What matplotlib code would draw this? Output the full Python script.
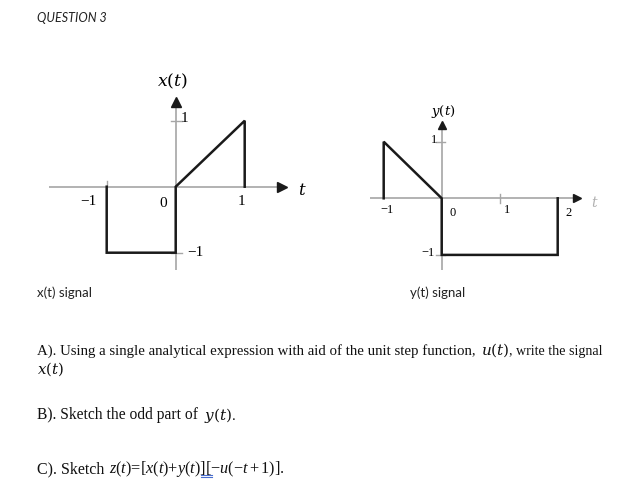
import matplotlib
matplotlib.use('Agg')
import matplotlib.pyplot as plt

plt.rcParams['mathtext.fontset'] = 'custom'
plt.rcParams['mathtext.it'] = 'Liberation Serif:italic'
plt.rcParams['mathtext.rm'] = 'Liberation Serif'
plt.rcParams['mathtext.bf'] = 'Liberation Serif:bold'

# ---- data ----
x_t = [-1, -1, 0, 0, 1, 1]
x_v = [0, -1, -1, 0, 1, 0]
y_t = [-1, -1, 0, 0, 2, 2]
y_v = [0, 1, 0, -1, -1, 0]

W, H = 640, 498
fig = plt.figure(figsize=(6.4, 4.98), dpi=100)
fig.patch.set_facecolor('white')

bg = fig.add_axes([0, 0, 1, 1])
bg.set_xlim(0, W)
bg.set_ylim(H, 0)
bg.axis('off')

GRAY = '#a6a6a6'
BLACK = '#1a1a1a'
SERIF = 'Liberation Serif'
SANS = 'Lato'
MF = 'dejavuserif'


def make_axes(ox, oy, sx, sy, xlim, ylim):
    left = ox + sx * xlim[0]
    right = ox + sx * xlim[1]
    top = oy - sy * ylim[1]
    bottom = oy - sy * ylim[0]
    ax = fig.add_axes([left / W, 1 - bottom / H, (right - left) / W, (bottom - top) / H])
    ax.set_xlim(*xlim)
    ax.set_ylim(*ylim)
    ax.axis('off')
    ax.patch.set_alpha(0)
    return ax


def draw_axes(ax, hx, vy, tick_x, tick_y, tlen_x, tlen_y, ms):
    ax.plot(hx, [0, 0], color=GRAY, lw=1.2, solid_capstyle='butt', zorder=1)
    ax.plot([0, 0], vy, color=GRAY, lw=1.2, solid_capstyle='butt', zorder=1)
    ax.plot(hx[1], 0, marker='>', ms=ms, color=BLACK, mec=BLACK, zorder=3, clip_on=False)
    ax.plot(0, vy[1], marker='^', ms=ms, color=BLACK, mec=BLACK, zorder=3, clip_on=False)
    for tx in tick_x:
        ax.plot([tx, tx], tlen_x, color=GRAY, lw=1.0, zorder=1)
    for ty in tick_y:
        ax.plot(tlen_y, [ty, ty], color=GRAY, lw=1.0, zorder=1)


# ---- x(t) plot ----
ax1 = make_axes(175.7, 186.7, 69, 66, (-1.85, 2.0), (-1.45, 1.75))
draw_axes(ax1, [-1.83, 1.54], [-1.26, 1.29], [-1], [1, -1], [0, 0.09], [-0.07, 0.09], 7)
ax1.plot(x_t, x_v, color=BLACK, lw=1.8, zorder=2, solid_joinstyle='miter')
ax1.text(-0.04, 1.59, r'$x(t)$', fontsize=12.5, math_fontfamily=MF, ha='center', va='center')
ax1.text(0.13, 1.04, '1', fontsize=11, family=SERIF, ha='center', va='center')
ax1.text(-1.26, -0.23, '\u22121', fontsize=11, family=SERIF, ha='center', va='center')
ax1.text(-0.18, -0.26, '0', fontsize=11, family=SERIF, ha='center', va='center')
ax1.text(0.96, -0.23, '1', fontsize=11, family=SERIF, ha='center', va='center')
ax1.text(1.83, -0.05, r'$t$', fontsize=12, math_fontfamily=MF, ha='center', va='center')
ax1.text(0.28, -1.0, '\u22121', fontsize=11, family=SERIF, ha='center', va='center')

# ---- y(t) plot ----
ax2 = make_axes(441.7, 198.3, 58, 56.6, (-1.3, 2.9), (-1.35, 1.75))
draw_axes(ax2, [-1.24, 2.33], [-1.27, 1.29], [1], [1, -1], [-0.09, 0.08], [-0.1, 0.05], 5.5)
ax2.plot(y_t, y_v, color=BLACK, lw=1.8, zorder=2, solid_joinstyle='miter')
ax2.text(0.02, 1.54, r'$y(t)$', fontsize=9.5, math_fontfamily=MF, ha='center', va='center')
ax2.text(-0.13, 1.03, '1', fontsize=9, family=SERIF, ha='center', va='center')
ax2.text(-0.94, -0.21, '\u22121', fontsize=9, family=SERIF, ha='center', va='center')
ax2.text(0.18, -0.26, '0', fontsize=9, family=SERIF, ha='center', va='center')
ax2.text(1.13, -0.21, '1', fontsize=9, family=SERIF, ha='center', va='center')
ax2.text(2.18, -0.26, '2', fontsize=9, family=SERIF, ha='center', va='center')
ax2.text(2.64, -0.08, r'$t$', fontsize=10, math_fontfamily=MF, color='#b0b0b0', ha='center', va='center')
ax2.text(-0.24, -0.97, '\u22121', fontsize=9, family=SERIF, ha='center', va='center')

# ---- document text ----
bg.text(37, 18, 'QUESTION 3', fontsize=9, family=SANS, style='italic', color='#222222',
        ha='left', va='center')
bg.text(37, 293, 'x(t) signal', fontsize=9.5, family=SANS, color='#222222', ha='left', va='center')
bg.text(410, 293, 'y(t) signal', fontsize=9.5, family=SANS, color='#222222', ha='left', va='center')

TXT = '#111111'
# A line (justified in the source)
bg.text(37, 351, 'A). Using a single analytical expression with aid of the unit step function,',
        fontsize=10.75, family=SERIF, color=TXT, ha='left', va='center')
bg.text(481, 350, r'$u(t)$', fontsize=11, math_fontfamily=MF, color=TXT, ha='left', va='center')
bg.text(509, 351, ', write the signal', fontsize=10.1, family=SERIF, color=TXT, ha='left', va='center')
bg.text(37, 369, r'$x(t)$', fontsize=10.8, math_fontfamily=MF, color=TXT, ha='left', va='center')

# B line
bg.text(37, 415, 'B). Sketch the odd part of', fontsize=11.2, family=SERIF, color=TXT,
        ha='left', va='center')
bg.text(204, 415, r'$y(t)$.', fontsize=11, family=SERIF, math_fontfamily=MF, color=TXT,
        ha='left', va='center')

# C line
bg.text(37, 469, 'C). Sketch', fontsize=11.5, family=SERIF, color=TXT, ha='left', va='center')
bg.text(109, 469, r'$z(t)$=[$x(t)$+$y(t)$][$-u(-t+1)$].', fontsize=11.7, family=SERIF,
        math_fontfamily='custom', color=TXT, ha='left', va='center')
bg.plot([201, 212], [474.5, 474.5], color='#4a6fd0', lw=0.8)
bg.plot([201, 212], [476.5, 476.5], color='#4a6fd0', lw=0.8)

fig.savefig('out.png', dpi=100, facecolor='white')
